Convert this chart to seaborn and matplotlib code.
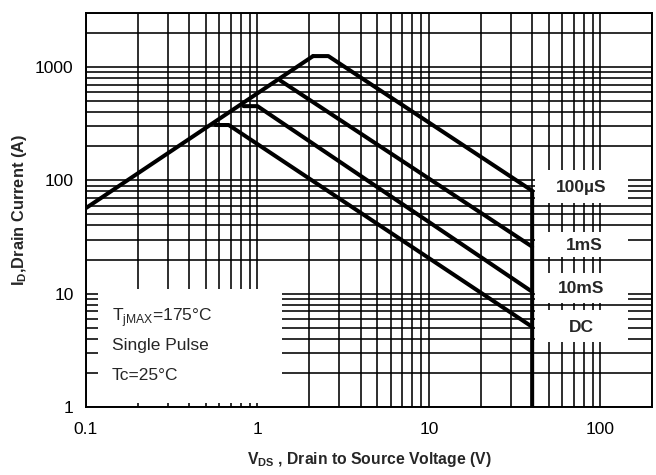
import numpy as np
import pandas as pd
import matplotlib as mpl
mpl.use('Agg')
import matplotlib.pyplot as plt
from matplotlib.patches import Rectangle
import seaborn as sns

# =============================================
# Data
# =============================================
# Rds(on) limit line
rds_v = [0.1, 2.11]
rds_i = [57, 1250]
# 100us pulse (incl. the vertical Vds max line down to 1 A)
us100_v = [2.11, 2.59, 40, 40]
us100_i = [1250, 1250, 81, 1]
# 1ms pulse
ms1_v = [1.36, 40]
ms1_i = [760, 26]
# 10ms pulse
ms10_v = [0.83, 1.0, 40]
ms10_i = [452, 452, 10.4]
# DC
dc_v = [0.57, 0.68, 40]
dc_i = [308, 308, 5.1]

curve_names = ['Rds', '100us', '1ms', '10ms', 'DC']
curve_v = [rds_v, us100_v, ms1_v, ms10_v, dc_v]
curve_i = [rds_i, us100_i, ms1_i, ms10_i, dc_i]

x_ticks = [0.1, 1, 10, 100]
x_labels = ['0.1', '1', '10', '100']
y_ticks = [1, 10, 100, 1000]
y_labels = ['1', '10', '100', '1000']

rows = []
for name, vs, is_ in zip(curve_names, curve_v, curve_i):
    for k, (v, i) in enumerate(zip(vs, is_)):
        rows.append({'curve': name, 'order': k, 'V': v, 'I': i})
df = pd.DataFrame(rows)

# =============================================
# Plotting
# =============================================
sns.set_style('white')
plt.rcParams['font.family'] = ['Liberation Sans', 'DejaVu Sans']
plt.rcParams['mathtext.fontset'] = 'custom'
plt.rcParams['mathtext.rm'] = 'Liberation Sans'
plt.rcParams['mathtext.bf'] = 'Liberation Sans:bold'

fig = plt.figure(figsize=(6.56, 4.75), dpi=100)
ax = fig.add_axes([86 / 656, 1 - 407 / 475, 566 / 656, 394 / 475])

sns.lineplot(data=df, x='V', y='I', units='curve', estimator=None, sort=False,
             color='black', lw=2.9, ax=ax, zorder=3)

ax.set_xscale('log')
ax.set_yscale('log')
ax.set_xlim(0.1, 200)
ax.set_ylim(1, 3000)

ax.set_xticks(x_ticks)
ax.set_xticklabels(x_labels)
ax.set_yticks(y_ticks)
ax.set_yticklabels(y_labels)
ax.xaxis.set_minor_locator(mpl.ticker.LogLocator(base=10, subs=np.arange(2, 10)))
ax.yaxis.set_minor_locator(mpl.ticker.LogLocator(base=10, subs=np.arange(2, 10)))
ax.xaxis.set_minor_formatter(mpl.ticker.NullFormatter())
ax.yaxis.set_minor_formatter(mpl.ticker.NullFormatter())
ax.tick_params(which='both', length=0, labelsize=12.5, colors='black')
ax.tick_params(axis='x', pad=11)
ax.tick_params(axis='y', pad=9)

ax.grid(which='both', color='black', lw=1.15)
ax.set_axisbelow(True)
for s in ax.spines.values():
    s.set_color('black')
    s.set_linewidth(1.4)

# white boxes behind the annotations (hide grid)
def white_box(x0, x1, y0, y1):
    ax.add_patch(Rectangle((x0, y0), x1 - x0, y1 - y0, transform=ax.transAxes,
                           facecolor='white', edgecolor='none', zorder=1.5))

white_box(0.021, 0.346, 0.010, 0.300)
white_box(0.793, 0.958, 0.518, 0.602)
white_box(0.793, 0.958, 0.381, 0.444)
white_box(0.793, 0.958, 0.264, 0.340)
white_box(0.793, 0.958, 0.165, 0.246)

lbl = dict(transform=ax.transAxes, ha='center', va='center', fontsize=12.5,
           fontweight='bold', zorder=4)
ax.text(0.875, 0.556, '100µS', **lbl)
ax.text(0.880, 0.409, '1mS', **lbl)
ax.text(0.875, 0.302, '10mS', **lbl)
ax.text(0.875, 0.203, 'DC', **lbl)

note = dict(transform=ax.transAxes, ha='left', va='center', fontsize=12.5, zorder=4)
ax.text(0.046, 0.228, r'T$_{\mathregular{jMAX}}$=175°C', **note)
ax.text(0.046, 0.155, 'Single Pulse', **note)
ax.text(0.046, 0.081, 'Tc=25°C', **note)

ax.set_xlabel(r'V$_{\mathregular{DS}}$ , Drain to Source Voltage (V)',
              fontsize=11.3, fontweight='bold', labelpad=9)
ax.set_ylabel(r'I$_{\mathregular{D}}$,Drain Current (A)',
              fontsize=11.8, fontweight='bold', labelpad=4)

fig.savefig('out.png', dpi=100)
